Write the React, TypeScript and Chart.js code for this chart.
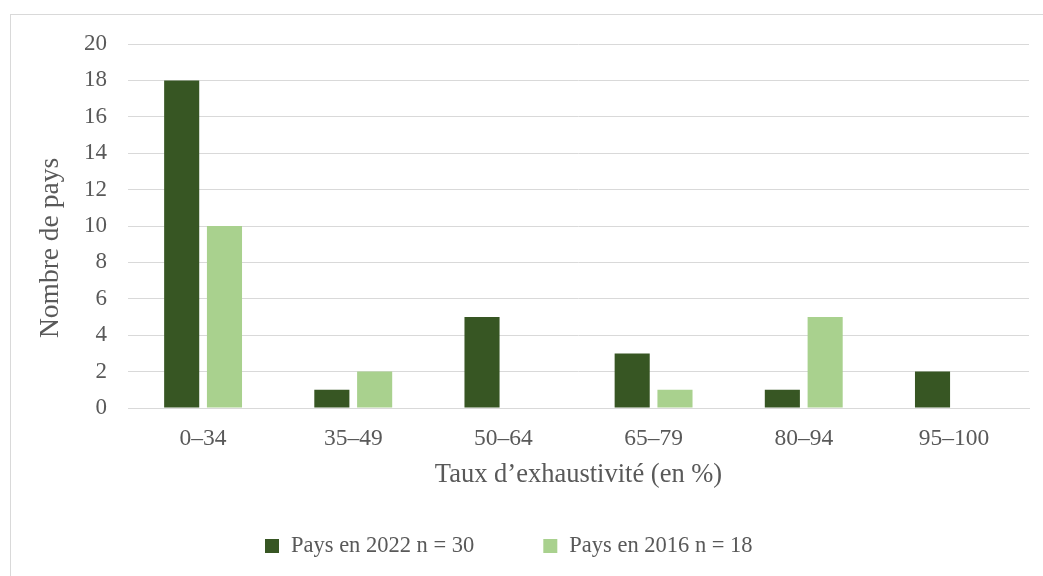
import React, { useEffect, useRef } from "react";
import { Chart, registerables } from "chart.js";

Chart.register(...registerables);

const categories = ["0–34", "35–49", "50–64", "65–79", "80–94", "95–100"];
const series2022 = [18, 1, 5, 3, 1, 2];
const series2016 = [10, 2, 0, 1, 5, 0];
const seriesLabels = ["Pays en 2022 n = 30", "Pays en 2016 n = 18"];
const seriesColors = ["#375623", "#A9D18E"];
const yTitle = "Nombre de pays";
const xTitle = "Taux d’exhaustivité (en %)";

const FONT = "'Liberation Serif', 'Times New Roman', serif";
const TEXT = "#595959";
const GRID = "#d9d9d9";

const framePlugin = {
  id: "frame",
  beforeDraw(chart: any) {
    const ctx = chart.ctx;
    ctx.save();
    ctx.fillStyle = "#ffffff";
    ctx.fillRect(0, 0, chart.width, chart.height);
    ctx.strokeStyle = GRID;
    ctx.lineWidth = 1;
    ctx.strokeRect(10.5, 14.5, chart.width + 20, chart.height + 20);
    ctx.restore();
  },
  afterDraw(chart: any) {
    const ctx = chart.ctx;
    ctx.save();
    // y axis title
    ctx.fillStyle = TEXT;
    ctx.font = `27.5px ${FONT}`;
    ctx.translate(51, 248);
    ctx.rotate(-Math.PI / 2);
    ctx.textAlign = "center";
    ctx.textBaseline = "middle";
    ctx.fillText(yTitle, 0, 0);
    ctx.restore();

    // legend
    ctx.save();
    ctx.font = `22.5px ${FONT}`;
    ctx.textBaseline = "alphabetic";
    ctx.textAlign = "left";
    let x = 265;
    chart.data.datasets.forEach((ds: any) => {
      ctx.fillStyle = ds.backgroundColor;
      ctx.fillRect(x, 539, 14, 14);
      ctx.fillStyle = TEXT;
      ctx.fillText(ds.label, x + 26, 552);
      x += 26 + ctx.measureText(ds.label).width + 69;
    });
    ctx.restore();
  },
};

export default function App() {
  const ref = useRef<HTMLCanvasElement | null>(null);
  useEffect(() => {
    if (!ref.current) return;
    const chart = new Chart(ref.current, {
      type: "bar",
      data: {
        labels: categories,
        datasets: [
          {
            label: seriesLabels[0],
            data: series2022,
            backgroundColor: seriesColors[0],
            categoryPercentage: 0.57,
            barPercentage: 0.82,
          },
          {
            label: seriesLabels[1],
            data: series2016,
            backgroundColor: seriesColors[1],
            categoryPercentage: 0.57,
            barPercentage: 0.82,
          },
        ],
      },
      options: {
        responsive: false,
        animation: false,
        layout: { padding: { left: 10, right: 14, top: 44, bottom: 85 } },
        plugins: {
          legend: { display: false },
          tooltip: { enabled: false },
        },
        scales: {
          x: {
            grid: { display: false, drawTicks: false },
            border: { display: true, color: GRID },
            ticks: {
              color: TEXT,
              font: { family: FONT, size: 23.5 },
              padding: 17,
              maxRotation: 0,
            },
            title: {
              display: true,
              text: xTitle,
              color: TEXT,
              font: { family: FONT, size: 26.5 },
              padding: { top: 0, bottom: 0 },
            },
            afterFit: (scale: any) => {
              scale.height = 83;
            },
          },
          y: {
            min: 0,
            max: 20,
            ticks: {
              stepSize: 2,
              color: TEXT,
              font: { family: FONT, size: 23 },
              padding: 21,
            },
            grid: { color: GRID, drawTicks: false },
            border: { display: false },
            afterFit: (scale: any) => {
              scale.width = 118;
            },
          },
        },
      },
      plugins: [framePlugin],
    });
    return () => chart.destroy();
  }, []);
  return (
    <div style={{ position: "absolute", left: 0, top: 0, width: 1043, height: 576 }}>
      <canvas ref={ref} width={1043} height={576} style={{ display: "block" }} />
    </div>
  );
}
